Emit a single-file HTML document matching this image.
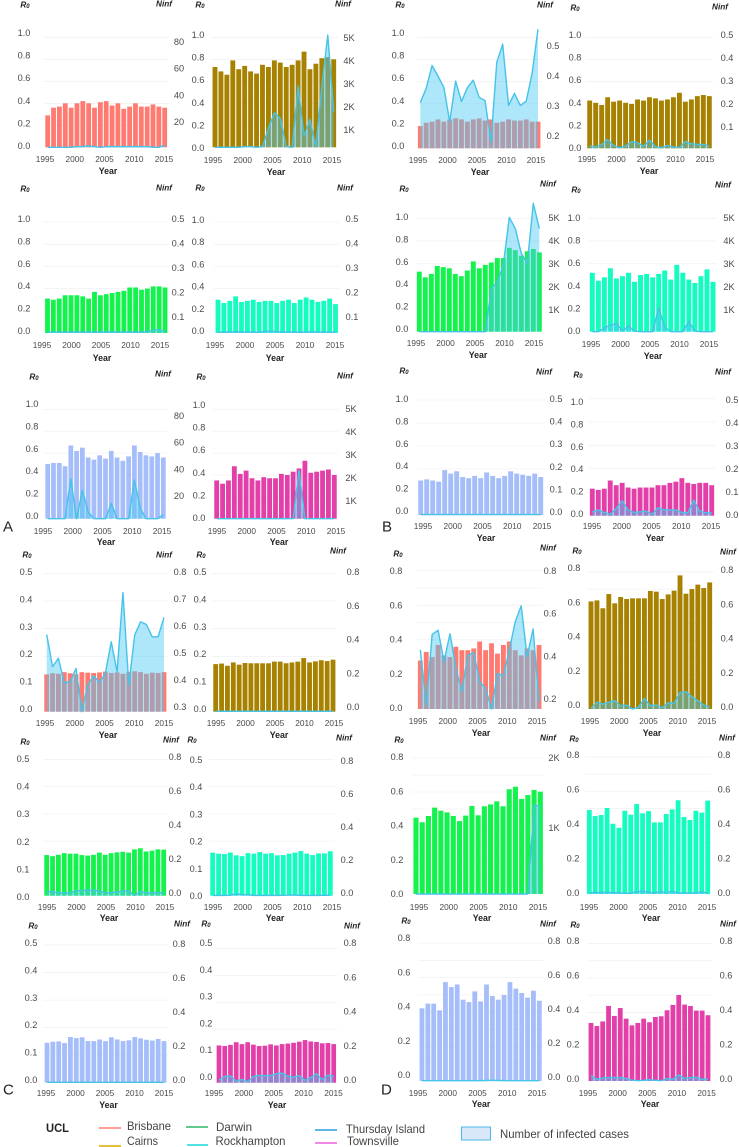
<!DOCTYPE html>
<html lang="en">
<head>
<meta charset="utf-8">
<title>R0 and number of infected cases by urban centre, 1995-2015</title>
<style>
html,body{margin:0;padding:0;background:#fff;}
svg{display:block;filter:blur(0.3px);}
text{font-family:"Liberation Sans",sans-serif;fill:#404040;dominant-baseline:central;}
.lt{font-size:9.2px;text-anchor:middle;fill:#4a4a4a;}
.xt{font-size:8.3px;text-anchor:middle;fill:#4a4a4a;}
.yr{font-size:8.8px;font-weight:bold;text-anchor:middle;fill:#222;}
.ax{font-size:8.2px;font-weight:bold;font-style:italic;text-anchor:middle;fill:#222;}
.lg{font-size:12px;fill:#444;}
.ltr{font-size:15px;fill:#222;}
</style>
</head>
<body>
<svg id="chart" xmlns="http://www.w3.org/2000/svg" width="739" height="1147" viewBox="0 0 739 1147">
<rect x="0" y="0" width="739" height="1147" fill="#ffffff"/>
<g id="panels"></g>
<text class="ltr" x="3" y="527">A</text>
<text class="ltr" x="382" y="527">B</text>
<text class="ltr" x="3" y="1090">C</text>
<text class="ltr" x="381" y="1090">D</text>
<g>
<text x="46" y="1128" font-size="12" font-weight="bold" style="fill:#222" textLength="23" lengthAdjust="spacingAndGlyphs">UCL</text>
<line x1="99" x2="121" y1="1128" y2="1128" stroke="#ff7b72" stroke-width="1.5"/>
<text class="lg" x="127" y="1126" textLength="44" lengthAdjust="spacingAndGlyphs">Brisbane</text>
<line x1="99" x2="121" y1="1146" y2="1146" stroke="#e0a800" stroke-width="1.5"/>
<text class="lg" x="127" y="1141" textLength="31" lengthAdjust="spacingAndGlyphs">Cairns</text>
<line x1="186" x2="208" y1="1127" y2="1127" stroke="#2fb86a" stroke-width="1.5"/>
<text class="lg" x="216" y="1127" textLength="36" lengthAdjust="spacingAndGlyphs">Darwin</text>
<line x1="187" x2="208" y1="1145" y2="1145" stroke="#18d8d8" stroke-width="1.5"/>
<text class="lg" x="215.500" y="1141" textLength="70" lengthAdjust="spacingAndGlyphs">Rockhampton</text>
<line x1="315" x2="337" y1="1130" y2="1130" stroke="#2f9be0" stroke-width="1.5"/>
<text class="lg" x="346" y="1129" textLength="79" lengthAdjust="spacingAndGlyphs">Thursday Island</text>
<line x1="315" x2="337" y1="1143" y2="1143" stroke="#f060e0" stroke-width="1.5"/>
<text class="lg" x="347" y="1141" textLength="52" lengthAdjust="spacingAndGlyphs">Townsville</text>
<rect x="461.500" y="1127" width="29" height="13" fill="#d8e8f8" stroke="#4ab8e8" stroke-width="1"/>
<text class="lg" x="500" y="1134" textLength="129" lengthAdjust="spacingAndGlyphs">Number of infected cases</text>
</g>
</svg>
<script>
// Categories and tick labels
const years = [1995,1996,1997,1998,1999,2000,2001,2002,2003,2004,2005,2006,2007,2008,2009,2010,2011,2012,2013,2014,2015];
const yearTicks = [1995,2000,2005,2010,2015];
const r0Ticks10 = [0,0.2,0.4,0.6,0.8,1.0];
const r0Ticks08 = [0,0.2,0.4,0.6,0.8];
const r0Ticks05 = [0,0.1,0.2,0.3,0.4,0.5];
const gridTicks08 = [0.1,0.2,0.3,0.4,0.5,0.6,0.7,0.8];
const ninfTicks80 = [20,40,60,80];
const ninfTicksK = [1,2,3,4,5];
const ninfTicksK2 = [1,2];
const ninfTicks05 = [0.1,0.2,0.3,0.4,0.5];
const ninfTicks05z = [0,0.1,0.2,0.3,0.4,0.5];
const ninfTicks25 = [0.2,0.3,0.4,0.5];
const ninfTicks38 = [0.3,0.4,0.5,0.6,0.7,0.8];
const ninfTicks08 = [0,0.2,0.4,0.6,0.8];
const ninfTicks28 = [0.2,0.4,0.6,0.8];

// Series values: group A
const r0A1 = [.29,.36,.37,.40,.36,.40,.42,.40,.36,.41,.42,.38,.40,.35,.37,.40,.37,.37,.39,.37,.36];
const ninfA1 = [0,0,0,0,0,.5,.5,1,.5,0,.5,.5,.5,.5,.5,.5,.5,.5,0,0,1.5];
const r0A2 = [.73,.69,.66,.79,.71,.74,.69,.67,.75,.73,.79,.77,.73,.75,.79,.87,.71,.76,.81,.82,.80];
const ninfA2 = [0,0,0,0,0,.03,.03,0,.03,.83,1.5,1.26,.03,0,2.67,.49,1.22,.03,2.64,4.88,1.55];
const r0A3 = [.31,.30,.31,.34,.34,.34,.33,.31,.37,.34,.35,.36,.37,.38,.41,.41,.39,.40,.42,.42,.41];
const ninfA3 = [.004,.003,.004,.004,.004,.005,.004,.003,.004,.004,.005,.005,.004,.004,.005,.004,.005,.006,.012,.014,.006];
const r0A4 = [.30,.27,.29,.33,.28,.29,.30,.28,.29,.29,.27,.29,.30,.27,.30,.32,.30,.28,.29,.31,.26];
const ninfA4 = [.004,.003,.004,.005,.005,.004,.003,.004,.006,.008,.006,.004,.005,.004,.003,.004,.005,.004,.004,.003,.004];
const r0A5 = [.50,.51,.51,.48,.67,.62,.65,.56,.54,.58,.55,.62,.56,.53,.57,.67,.61,.58,.57,.60,.56];
const ninfA5 = [0,0,0,0,30,0,21.5,5,0,0,0,11.5,0,0,0,29,8,0,0,0,3];
const r0A6 = [.35,.32,.35,.48,.41,.44,.37,.35,.38,.37,.37,.41,.40,.43,.46,.53,.42,.43,.44,.45,.40];
const ninfA6 = [0,0,0,0,0,0,0,0,0,0,0,0,0,0,2.1,0,0,0,0,0,0];

// Series values: group B
const r0B1 = [.20,.23,.24,.26,.24,.26,.27,.26,.24,.26,.27,.25,.26,.23,.24,.26,.25,.25,.26,.24,.24];
const ninfB1 = [.311,.359,.435,.400,.362,.248,.383,.315,.361,.386,.329,.318,.181,.446,.506,.302,.342,.302,.316,.409,.556];
const r0B2 = [.43,.41,.39,.46,.42,.43,.41,.40,.44,.43,.46,.45,.43,.44,.46,.50,.42,.44,.47,.48,.47];
const ninfB2 = [.01,.006,.016,.038,.012,.003,.01,.028,.025,.009,.036,.007,.003,.012,.006,.003,.03,.02,.017,.017,.01];
const r0B3 = [.53,.48,.51,.58,.57,.56,.51,.49,.54,.62,.56,.59,.61,.65,.65,.74,.72,.67,.71,.73,.70];
const ninfB3 = [0,0,0,0,0,0,0,0,0,0,0,0,1.88,2.17,2.9,4.97,4.49,3.4,2.97,5.58,4.49];
const r0B4 = [.52,.45,.48,.56,.47,.49,.52,.44,.50,.51,.48,.51,.54,.46,.59,.52,.46,.43,.49,.55,.44];
const ninfB4 = [0,0,.17,.29,.36,.03,.26,.03,0,0,0,1.04,.2,0,0,0,.46,.03,0,0,0];
const r0B5 = [.30,.31,.30,.29,.39,.36,.38,.33,.32,.34,.32,.37,.34,.32,.34,.38,.36,.35,.34,.36,.33];
const ninfB5 = [.002,.002,.002,.002,.002,.002,.002,.002,.002,.002,.002,.002,.002,.002,.002,.002,.002,.002,.002,.002,.002];
const r0B6 = [.23,.22,.23,.30,.26,.28,.24,.23,.24,.24,.24,.26,.26,.28,.29,.32,.28,.27,.28,.28,.26];
const ninfB6 = [.017,.025,.014,.006,.032,.065,.025,.014,.017,.020,.006,.035,.026,.025,.025,.014,.013,.068,.020,.013,.012];

// Series values: group C
const r0C1 = [.135,.139,.137,.143,.139,.135,.143,.141,.14,.142,.145,.14,.142,.137,.143,.146,.143,.137,.141,.14,.143];
const ninfC1 = [.570,.451,.482,.391,.395,.444,.284,.383,.417,.393,.426,.543,.432,.725,.383,.568,.617,.607,.561,.562,.633];
const r0C2 = [.172,.174,.166,.178,.17,.176,.175,.175,.175,.175,.181,.181,.175,.178,.181,.194,.178,.182,.186,.183,.188];
const ninfC2 = [.002,.002,.002,.002,.002,.002,.002,.002,.002,.002,.002,.002,.002,.002,.002,.002,.002,.002,.002,.002,.002];
const r0C3 = [.149,.145,.15,.156,.154,.154,.149,.147,.15,.158,.15,.156,.159,.161,.158,.17,.174,.162,.165,.17,.169];
const ninfC3 = [.024,.025,.018,.018,.018,.029,.031,.033,.033,.027,.018,.018,.022,.027,.031,.002,.025,.018,.018,.02,.016];
const r0C4 = [.158,.154,.153,.158,.148,.145,.156,.154,.16,.154,.156,.148,.149,.154,.158,.164,.154,.149,.155,.155,.163];
const ninfC4 = [.002,.002,.002,.003,.012,.006,.006,.002,.002,.002,.002,.002,.003,.004,.005,.002,.002,.002,.002,.003,.002];
const r0C5 = [.145,.149,.15,.144,.166,.162,.165,.151,.151,.157,.151,.165,.157,.151,.154,.166,.161,.156,.153,.159,.151];
const ninfC5 = [.002,.002,.002,.002,.002,.002,.002,.002,.002,.002,.002,.002,.002,.002,.002,.002,.002,.002,.002,.002,.002];
const r0C6 = [.139,.137,.141,.151,.144,.151,.142,.137,.138,.143,.139,.144,.146,.149,.153,.159,.154,.152,.147,.148,.144];
const ninfC6 = [.016,.037,.039,.01,.019,.006,.037,.043,.041,.043,.053,.056,.039,.033,.041,.014,.031,.053,.018,.045,.039];

// Series values: group D
const r0D1 = [.28,.33,.30,.37,.31,.30,.36,.34,.34,.35,.39,.34,.38,.32,.37,.39,.34,.31,.35,.34,.37];
const ninfD1 = [.429,.171,.502,.521,.374,.505,.343,.233,.402,.418,.28,.249,.152,.319,.308,.429,.561,.636,.397,.527,.186];
const r0D2 = [.628,.634,.588,.671,.617,.654,.642,.646,.646,.646,.689,.685,.642,.669,.691,.78,.673,.70,.726,.706,.739];
const ninfD2 = [.004,.039,.029,.039,.049,.019,.023,0,.01,.062,.019,.023,.008,.037,.033,.097,.101,.072,.049,.023,.012];
const r0D3 = [.449,.422,.459,.508,.49,.48,.459,.429,.461,.518,.463,.516,.527,.545,.516,.616,.631,.559,.582,.612,.602];
const ninfD3 = [0,0,0,0,0,0,0,0,0,0,0,0,0,0,0,0,0,0,0,1.27,1.25];
const r0D4 = [.49,.455,.461,.502,.41,.387,.486,.463,.525,.471,.484,.418,.418,.467,.494,.547,.449,.432,.486,.475,.545];
const ninfD4 = [.008,.008,.01,.01,.008,.006,.004,.006,.014,.016,.012,.006,.016,.008,.016,.006,.006,.006,.006,.014,.004];
const r0D5 = [.422,.449,.449,.41,.574,.545,.56,.472,.458,.52,.462,.56,.493,.472,.499,.574,.536,.511,.484,.524,.466];
const ninfD5 = [.002,.002,.002,.002,.002,.002,.002,.002,.002,.002,.002,.003,.004,.003,.002,.002,.002,.002,.002,.002,.002];
const r0D6 = [.338,.32,.347,.437,.379,.425,.363,.324,.338,.363,.342,.373,.377,.412,.443,.501,.445,.437,.41,.41,.383];
const ninfD6 = [.03,.01,.018,.02,.02,.02,.015,.005,.002,.004,.008,.004,.002,.014,.01,.035,.015,.02,.022,.01,.01];

const COLORS = {bris:'#ff7b72', cairns:'#a68200', darwin:'#13f24d', rock:'#14fcc0', thurs:'#a5bdf8', towns:'#e23fa8'};

// Panel geometry
const panels = [
 {id:'a-brisbane',c:COLORS.bris,r0:r0A1,n:ninfA1,lt:r0Ticks10,rt:ninfTicks80,f:'i',x0:47.7,x1:164.7,base:147.3,sc:110,lx:24,l0:146,lm:33,rx:179,rT:42,rB:122,rMin:0,xa:45,xb:164,xy:159,yx:108,yy:171,r0x:25,r0y:5,nx:164,ny:4},
 {id:'a-cairns',c:COLORS.cairns,r0:r0A2,n:ninfA2,lt:r0Ticks10,rt:ninfTicksK,f:'k',x0:215,x1:333.7,base:147.3,sc:110,lx:198,l0:148,lm:35,rx:349,rT:38,rB:130,rMin:0,xa:213,xb:332,xy:160,yx:276,yy:172,r0x:200,r0y:5,nx:343,ny:4},
 {id:'b-brisbane',c:COLORS.bris,r0:r0B1,n:ninfB1,lt:r0Ticks10,rt:ninfTicks25,f:'d',x0:420.3,x1:538,base:148.3,sc:111,lx:398,l0:146,lm:33,rx:553,rT:46,rB:136,rMin:.159,xa:418,xb:536,xy:160,yx:480,yy:172,r0x:400,r0y:5,nx:545,ny:5},
 {id:'b-cairns',c:COLORS.cairns,r0:r0B2,n:ninfB2,lt:r0Ticks10,rt:ninfTicks05,f:'d',x0:589.7,x1:709.3,base:148.3,sc:111,lx:575,l0:148,lm:35,rx:727,rT:35,rB:127,rMin:0,xa:587,xb:705,xy:159,yx:649,yy:171,r0x:575,r0y:8,nx:720,ny:7},

 {id:'a-darwin',c:COLORS.darwin,r0:r0A3,n:ninfA3,lt:r0Ticks10,rt:ninfTicks05,f:'d',x0:47.500,x1:165,base:333,sc:111,lx:24,l0:331,lm:219,rx:178,rT:219,rB:317,rMin:0,xa:42,xb:160,xy:345,yx:102,yy:358,r0x:25,r0y:189,nx:164,ny:188},
 {id:'a-rockhampton',c:COLORS.rock,r0:r0A4,n:ninfA4,lt:r0Ticks10,rt:ninfTicks05,f:'d',x0:218,x1:335.500,base:333,sc:111,lx:198,l0:331,lm:220,rx:352,rT:219,rB:317,rMin:0,xa:215,xb:335,xy:345,yx:275,yy:358,r0x:200,r0y:188,nx:345,ny:188},
 {id:'b-darwin',c:COLORS.darwin,r0:r0B3,n:ninfB3,lt:r0Ticks10,rt:ninfTicksK,f:'k',x0:419.3,x1:539.3,base:331.7,sc:113.300,lx:402,l0:329,lm:217,rx:554,rT:218,rB:310,rMin:0,xa:416,xb:534,xy:343,yx:478,yy:355,r0x:404,r0y:189,nx:548,ny:184},
 {id:'b-rockhampton',c:COLORS.rock,r0:r0B4,n:ninfB4,lt:r0Ticks10,rt:ninfTicksK,f:'k',x0:592.3,x1:713,base:331.7,sc:113.300,lx:574,l0:331,lm:218,rx:729,rT:218,rB:310,rMin:0,xa:591,xb:709,xy:344,yx:653,yy:356,r0x:576,r0y:190,nx:723,ny:185},

 {id:'a-thursday-island',c:COLORS.thurs,r0:r0A5,n:ninfA5,lt:r0Ticks10,rt:ninfTicks80,f:'i',x0:47.7,x1:163.3,base:518.7,sc:109.300,lx:32,l0:516,lm:404,rx:179,rT:416,rB:496,rMin:0,xa:43,xb:162,xy:531,yx:106,yy:542,r0x:34,r0y:377,nx:163,ny:374},
 {id:'a-townsville',c:COLORS.towns,r0:r0A6,n:ninfA6,lt:r0Ticks10,rt:ninfTicksK,f:'k',x0:216.7,x1:334.3,base:518.7,sc:109.300,lx:199,l0:518,lm:405,rx:351,rT:409,rB:501,rMin:0,xa:217,xb:336,xy:531,yx:279,yy:542,r0x:201,r0y:377,nx:345,ny:376},
 {id:'b-thursday-island',c:COLORS.thurs,r0:r0B5,n:ninfB5,lt:r0Ticks10,rt:ninfTicks05z,f:'d',x0:420.7,x1:540.7,base:515,sc:115,lx:402,l0:511,lm:399,rx:556,rT:399,rB:512,rMin:0,xa:423,xb:542,xy:526,yx:486,yy:538,r0x:404,r0y:371,nx:544,ny:372},
 {id:'b-townsville',c:COLORS.towns,r0:r0B6,n:ninfB6,lt:r0Ticks10,rt:ninfTicks05z,f:'d',x0:592.3,x1:711.7,base:515.7,sc:117.300,lx:577,l0:514,lm:402,rx:732,rT:400,rB:515,rMin:0,xa:592,xb:711,xy:526,yx:655,yy:538,r0x:578,r0y:375,nx:723,ny:372},

 {id:'c-brisbane',c:COLORS.bris,r0:r0C1,n:ninfC1,lt:r0Ticks05,rt:ninfTicks38,f:'d',x0:46.7,x1:164,base:711.7,sc:276.700,lx:26,l0:709,lm:572,rx:180,rT:572,rB:707,rMin:.284,xa:45,xb:164,xy:723,yx:108,yy:735,r0x:27,r0y:555,nx:164,ny:555},
 {id:'c-cairns',c:COLORS.cairns,r0:r0C2,n:ninfC2,lt:r0Ticks05,rt:ninfTicks08,f:'d',x0:215.7,x1:333,base:711.7,sc:276.700,lx:200,l0:709,lm:572,rx:353,rT:572,rB:707,rMin:0,xa:216,xb:334,xy:723,yx:279,yy:735,r0x:201,r0y:555,nx:338,ny:551},
 {id:'d-brisbane',c:COLORS.bris,r0:r0D1,n:ninfD1,lt:r0Ticks08,g:gridTicks08,rt:ninfTicks28,f:'d',x0:420.3,x1:539,base:709,sc:173,lx:396,l0:708,lm:571,rx:550,rT:571,rB:699,rMin:.152,xa:418,xb:537,xy:721,yx:481,yy:733,r0x:398,r0y:554,nx:548,ny:548},
 {id:'d-cairns',c:COLORS.cairns,r0:r0D2,n:ninfD2,lt:r0Ticks08,g:gridTicks08,rt:ninfTicks08,f:'d',x0:591,x1:709.7,base:709,sc:171.300,lx:574,l0:705,lm:568,rx:727,rT:570,rB:707,rMin:0,xa:590,xb:707,xy:721,yx:652,yy:733,r0x:577,r0y:551,nx:728,ny:552},

 {id:'c-darwin',c:COLORS.darwin,r0:r0C3,n:ninfC3,lt:r0Ticks05,rt:ninfTicks08,f:'d',x0:46.7,x1:163.7,base:895.7,sc:272.700,lx:23,l0:897,lm:759,rx:175,rT:757,rB:893,rMin:0,xa:47,xb:165,xy:907,yx:109,yy:918,r0x:25,r0y:742,nx:171,ny:740},
 {id:'c-rockhampton',c:COLORS.rock,r0:r0C4,n:ninfC4,lt:r0Ticks05,rt:ninfTicks08,f:'d',x0:212.7,x1:330.3,base:895.7,sc:272.700,lx:196,l0:896,lm:760,rx:347,rT:761,rB:893,rMin:0,xa:213,xb:332,xy:907,yx:275,yy:918,r0x:192,r0y:740,nx:344,ny:738},
 {id:'d-darwin',c:COLORS.darwin,r0:r0D3,n:ninfD3,lt:r0Ticks08,g:gridTicks08,rt:ninfTicksK2,f:'k',x0:416,x1:540.3,base:894,sc:170,lx:397,l0:894,lm:757,rx:554,rT:758,rB:828,rMin:0,xa:419,xb:538,xy:907,yx:482,yy:918,r0x:399,r0y:740,nx:548,ny:738},
 {id:'d-rockhampton',c:COLORS.rock,r0:r0D4,n:ninfD4,lt:r0Ticks08,g:gridTicks08,rt:ninfTicks08,f:'d',x0:589.3,x1:707.7,base:894,sc:171.300,lx:573,l0:893,lm:755,rx:724,rT:755,rB:893,rMin:0,xa:589,xb:707,xy:907,yx:651,yy:918,r0x:574,r0y:739,nx:727,ny:738},

 {id:'c-thursday-island',c:COLORS.thurs,r0:r0C5,n:ninfC5,lt:r0Ticks05,rt:ninfTicks08,f:'d',x0:47,x1:164,base:1082.7,sc:275.300,lx:31,l0:1080,lm:943,rx:179,rT:944,rB:1080,rMin:0,xa:46,xb:164,xy:1093,yx:108.500,yy:1105,r0x:33,r0y:926,nx:182,ny:924},
 {id:'c-townsville',c:COLORS.towns,r0:r0C6,n:ninfC6,lt:r0Ticks05,rt:ninfTicks08,f:'d',x0:219,x1:333.7,base:1082.7,sc:268,lx:206,l0:1077,lm:943,rx:350,rT:943,rB:1080,rMin:0,xa:214,xb:333.500,xy:1093,yx:277,yy:1105,r0x:206,r0y:924,nx:352,ny:926},
 {id:'d-thursday-island',c:COLORS.thurs,r0:r0D5,n:ninfD5,lt:r0Ticks08,g:gridTicks08,rt:ninfTicks08,f:'d',x0:422,x1:539.3,base:1081,sc:172.300,lx:404,l0:1075,lm:938,rx:554,rT:941,rB:1077,rMin:0,xa:418,xb:537,xy:1093,yx:481,yy:1104,r0x:406,r0y:921,nx:548,ny:924},
 {id:'d-townsville',c:COLORS.towns,r0:r0D6,n:ninfD6,lt:r0Ticks08,g:gridTicks08,rt:ninfTicks08,f:'d',x0:591,x1:708,base:1081,sc:171.700,lx:573,l0:1079,lm:941,rx:726,rT:941,rB:1079,rMin:0,xa:588,xb:706.600,xy:1093,yx:650,yy:1104,r0x:575,r0y:925,nx:728,ny:924}
];

const SVGNS = 'http://www.w3.org/2000/svg';
const root = document.getElementById('panels');

function mk(tag, parent, attrs, txt) {
  const el = document.createElementNS(SVGNS, tag);
  for (const k in attrs) el.setAttribute(k, attrs[k]);
  if (txt !== undefined) el.textContent = txt;
  parent.appendChild(el);
  return el;
}
function fmtR(f, v) {
  if (f === 'k') return v + 'K';
  if (f === 'i') return String(v);
  return v.toFixed(1);
}

panels.forEach(function (p) {
  const g = mk('g', root, {});
  
  

  const step = (p.x1 - p.x0) / (years.length - 1);
  const bw = step * 0.82;
  const xS = function (i) { return p.x0 + i * step; };
  const yL = function (v) { return p.base - v * p.sc; };
  const lMax = p.lt[p.lt.length - 1];
  const yLbl = function (v) { return p.l0 + (p.lm - p.l0) * v / lMax; };
  const rMaxT = p.rt[p.rt.length - 1];
  const rMinT = p.rt[0];
  const k = (p.rB - p.rT) / (rMaxT - rMinT);
  const yRLbl = function (v) { return p.rT + (rMaxT - v) * k; };
  const yN = function (v) { return p.base - (v - p.rMin) * k; };

  // gridlines
  (p.g || p.lt).forEach(function (v) {
    if (v === 0) return;
    const gl = mk('line', g, {x1: p.x0 - 4, x2: p.x1 + 4, y1: yL(v), y2: yL(v), stroke: '#f1f1f1', 'stroke-width': 0.8});
    
    
  });

  // bars
  years.forEach(function (yr, i) {
    const b = mk('rect', g, {x: xS(i) - bw / 2, y: yL(p.r0[i]), width: bw, height: p.base - yL(p.r0[i]), fill: p.c});
    
    
  });

  // infected-cases area and line
  const pts = p.n.map(function (v, i) { return xS(i).toFixed(2) + ',' + yN(v).toFixed(2); });
  const area = mk('polygon', g, {points: xS(0).toFixed(2) + ',' + p.base + ' ' + pts.join(' ') + ' ' + xS(years.length - 1).toFixed(2) + ',' + p.base, fill: '#4bc7f4', 'fill-opacity': 0.45});
  
  
  const ln = mk('polyline', g, {points: pts.join(' '), fill: 'none', stroke: '#45c3e8', 'stroke-width': 1.4, 'stroke-linejoin': 'round'});
  
  

  // left ticks
  p.lt.forEach(function (v) {
    const t = mk('text', g, {class: 'lt', x: p.lx, y: yLbl(v)}, v.toFixed(1));
    
    
  });
  // right ticks
  p.rt.forEach(function (v) {
    const t = mk('text', g, {class: 'lt', x: p.rx, y: yRLbl(v)}, fmtR(p.f, v));
    
    
  });
  // x ticks
  yearTicks.forEach(function (yr) {
    const xp = p.xa + (yr - yearTicks[0]) * (p.xb - p.xa) / (yearTicks[yearTicks.length - 1] - yearTicks[0]);
    const t = mk('text', g, {class: 'xt', x: xp, y: p.xy}, String(yr));
    
    
  });
  // axis titles
  const xt = mk('text', g, {class: 'yr', x: p.yx, y: p.yy}, 'Year');
  
  
  const lt = mk('text', g, {class: 'ax', x: p.r0x, y: p.r0y}, 'R');
  
  
  mk('tspan', lt, {'font-size': '6', dy: '2'}, '0');
  const rt = mk('text', g, {class: 'ax', x: p.nx, y: p.ny}, 'Ninf');
  
  
});
</script>
</body>
</html>
